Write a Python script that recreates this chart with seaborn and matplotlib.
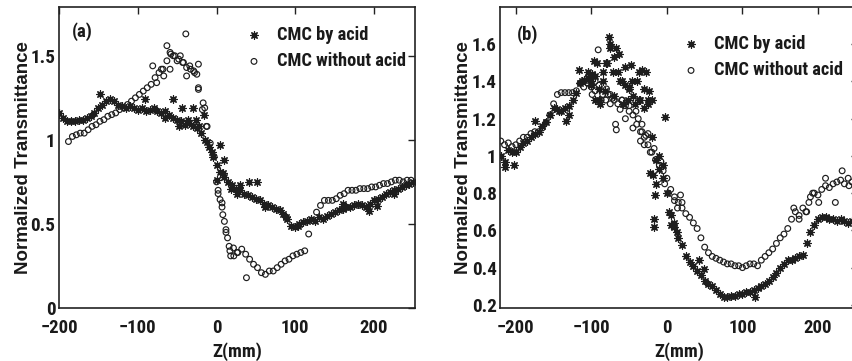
import numpy as np
import pandas as pd
import matplotlib
matplotlib.use("Agg")
import matplotlib.pyplot as plt
from matplotlib import font_manager
import seaborn as sns

# ---------------- data ----------------
# Panel (a)
a_acid_z0 = -200
a_acid_t = [1.16, 1.13, 1.11, 1.11, 1.11, 1.12, 1.12, 1.13, 1.14, 1.16,
            1.19, 1.21, 1.23, 1.24, 1.23, 1.21, 1.20, 1.19, 1.20, 1.19,
            1.18, 1.19, 1.17, 1.18, 1.19, 1.17, 1.16, 1.17, 1.15, 1.13,
            1.12, 1.11, 1.09, 1.10, 1.08, 1.07, 1.04, 1.00, 0.96, 0.90,
            0.85, 0.81, 0.78, 0.75, 0.73, 0.71, 0.70, 0.68, 0.67, 0.66,
            0.65, 0.64, 0.62, 0.61, 0.60, 0.59, 0.58, 0.56, 0.53, 0.49,
            0.48, 0.50, 0.51, 0.52, 0.53, 0.52, 0.54, 0.53, 0.55, 0.56,
            0.57, 0.58, 0.59, 0.60, 0.60, 0.61, 0.62, 0.61, 0.60, 0.62,
            0.64, 0.65, 0.66, 0.68, 0.69, 0.70, 0.71, 0.72, 0.73, 0.74,
            0.75]
a_acid_extra_z = [-148, -91, -55, -44, -30, -16, 4, 10, 0, 30, 41, 51, 193, 204,
                  -65, -48, -36, -26, -22, -12, -6, 8, 18, 26, 62, 88, 104, 160, 225]
a_acid_extra_t = [1.27, 1.24, 1.24, 1.19, 1.19, 1.145, 0.97, 0.88, 0.76, 0.73,
                  0.75, 0.75, 0.575, 0.605,
                  1.13, 1.08, 1.12, 1.12, 1.08, 0.99, 0.93, 0.80, 0.71, 0.68,
                  0.60, 0.54, 0.49, 0.62, 0.68]

a_noacid_z0 = -188
a_noacid_t = [0.99, 1.02, 1.03, 1.04, 1.04, 1.06, 1.08, 1.09, 1.11, 1.12,
              1.14, 1.15, 1.16, 1.18, 1.19, 1.21, 1.23, 1.25, 1.27, 1.29,
              1.31, 1.33, 1.37, 1.40, 1.42, 1.47, 1.51, 1.50, 1.48, 1.46,
              1.43, 1.42, 1.40, 1.30, 1.18, 1.08, 0.98, 0.90, 0.70, 0.60,
              0.45, 0.34, 0.31, 0.33, 0.35, 0.32, 0.29, 0.26, 0.24, 0.21,
              0.20, 0.22, 0.22, 0.24, 0.26, 0.28, 0.29, 0.31, 0.32, 0.33,
              0.34, 0.44, 0.52, 0.57, 0.61, 0.64, 0.64, 0.64, 0.65, 0.67,
              0.68, 0.70, 0.70, 0.70, 0.71, 0.71, 0.71, 0.72, 0.72, 0.73,
              0.74, 0.74, 0.75, 0.76, 0.76, 0.75, 0.76, 0.76]
a_noacid_extra_z = [-81, -70, -63, -59, -55, -50, -46, -42, -39, -38, -34, -29,
                    -23, -25, -23, -17, -15, -12, -67, -76, -59,
                    0, 2, 4.5, 7, 8, 10, 12, 14, 16, 18, 38, 21.5, 26]
a_noacid_extra_t = [1.44, 1.42, 1.56, 1.52, 1.50, 1.47, 1.50, 1.46, 1.63, 1.38,
                    1.44, 1.41, 1.45, 1.39, 1.31, 1.22, 1.19, 1.08, 1.38, 1.34,
                    1.42, 0.75, 0.68, 0.645, 0.625, 0.555, 0.515, 0.466, 0.417,
                    0.367, 0.31, 0.18, 0.357, 0.33]

# Panel (b)
b_acid_z0 = -220
b_acid_t = [1.00, 0.97, 1.03, 1.02, 1.02, 1.05, 1.07, 1.08, 1.10, 1.12,
            1.13, 1.16, 1.18, 1.22, 1.26, 1.25, 1.24, 1.26, 1.27, 1.30,
            1.34, 1.39, 1.41, 1.42, 1.40, 1.43, 1.36, 1.40, 1.50, 1.58,
            1.53, 1.45, 1.40, 1.38, 1.36, 1.32, 1.40, 1.30, 1.36, 1.28,
            1.10, 0.98, 0.93, 0.88, 0.80, 0.68, 0.62, 0.56, 0.52, 0.46,
            0.43, 0.41, 0.38, 0.36, 0.33, 0.31, 0.30, 0.28, 0.26, 0.24,
            0.24, 0.25, 0.25, 0.26, 0.26, 0.27, 0.27, 0.28, 0.29, 0.30,
            0.31, 0.33, 0.35, 0.37, 0.40, 0.42, 0.44, 0.44, 0.45, 0.46,
            0.47, 0.53, 0.59, 0.63, 0.66, 0.67, 0.67, 0.66, 0.66, 0.65,
            0.66, 0.65, 0.64, 0.65, 0.64]
b_acid_extra_z = [-117, -112, -99, -97, -92, -90, -79, -77, -75, -68, -64, -55,
                  -50, -48, -46, -37, -33, -30, -37, -24, -25, -3,
                  -143, -134, -130, -214, -203, -174,
                  -17, -17, -16, 3, 5, 9, 14, -19, -22, 117, 42, 49,
                  -105, -100, -95, -88, -85, -82, -72, -70, -62, -58, -52, -42,
                  -28, -20, -10, -5, -14]
b_acid_extra_t = [1.46, 1.40, 1.44, 1.51, 1.50, 1.30, 1.50, 1.64, 1.60, 1.58,
                  1.55, 1.48, 1.37, 1.49, 1.40, 1.45, 1.46, 1.26, 1.30, 1.35,
                  1.30, 1.21, 1.24, 1.19, 1.22, 0.94, 0.95, 1.19,
                  0.66, 0.62, 0.79, 0.70, 0.63, 0.64, 0.59, 0.90, 0.91, 0.24,
                  0.44, 0.39,
                  1.45, 1.38, 1.30, 1.28, 1.45, 1.35, 1.45, 1.32, 1.40, 1.28,
                  1.30, 1.28, 1.45, 1.30, 1.00, 0.95, 0.85]

b_noacid_z0 = -220
b_noacid_t = [1.08, 1.06, 1.07, 1.05, 1.06, 1.08, 1.10, 1.10, 1.12, 1.13,
              1.13, 1.15, 1.18, 1.22, 1.28, 1.33, 1.34, 1.34, 1.34, 1.34,
              1.35, 1.39, 1.40, 1.39, 1.37, 1.35, 1.38, 1.33, 1.36, 1.33,
              1.30, 1.28, 1.30, 1.27, 1.24, 1.22, 1.17, 1.13, 1.10, 1.06,
              1.02, 0.98, 0.95, 0.92, 0.88, 0.82, 0.78, 0.75, 0.72, 0.69,
              0.67, 0.64, 0.61, 0.56, 0.51, 0.48, 0.46, 0.45, 0.44, 0.43,
              0.42, 0.42, 0.41, 0.41, 0.40, 0.41, 0.42, 0.42, 0.41, 0.44,
              0.46, 0.48, 0.50, 0.53, 0.56, 0.58, 0.61, 0.66, 0.70, 0.68,
              0.72, 0.70, 0.78, 0.80, 0.79, 0.82, 0.84, 0.83, 0.85, 0.86,
              0.87, 0.85, 0.88, 0.86, 0.87]
b_noacid_extra_z = [-91, -68, -67, -99, -81, -72, -59, -41, -33, -30, -28, -33,
                    -17, 18, 20, 168, 175, 184, 188, 193, 210, 223, 232, 241, 201,
                    -110, -105, -95, -87, -78, -75, -62, -55, -50, -45, -38, -35,
                    -25, -22, -8, -3, 2, 10, 14]
b_noacid_extra_t = [1.57, 1.17, 1.14, 1.33, 1.30, 1.31, 1.30, 1.24, 1.17, 1.06,
                    1.11, 1.13, 1.04, 0.79, 0.75, 0.72, 0.66, 0.70, 0.75, 0.80,
                    0.88, 0.75, 0.92, 0.84, 0.75,
                    1.37, 1.42, 1.40, 1.30, 1.33, 1.28, 1.25, 1.20, 1.27, 1.15,
                    1.20, 1.08, 1.12, 1.02, 0.97, 0.85, 0.80, 0.76, 0.72]

z_step = 5
series_names = ["CMC by acid", "CMC without acid"]
panel_tags = ["(a)", "(b)"]
x_ticks = [-200, -100, 0, 100, 200]
a_y_ticks = [0, 0.5, 1, 1.5]
a_y_ticklabels = ["0", "0.5", "1", "1.5"]
b_y_ticks = [0.2, 0.4, 0.6, 0.8, 1.0, 1.2, 1.4, 1.6]
b_y_ticklabels = ["0.2", "0.4", "0.6", "0.8", "1", "1.2", "1.4", "1.6"]
x_label = "Z(mm)"
y_label = "Normalized Transmittance"


def build(z0, t, ez, et):
    z = z0 + z_step * np.arange(len(t))
    return pd.DataFrame({"Z": np.concatenate([z, ez]),
                         "T": np.concatenate([t, et])})


df_a_acid = build(a_acid_z0, a_acid_t, a_acid_extra_z, a_acid_extra_t)
df_a_no = build(a_noacid_z0, a_noacid_t, a_noacid_extra_z, a_noacid_extra_t)
df_b_acid = build(b_acid_z0, b_acid_t, b_acid_extra_z, b_acid_extra_t)
df_b_no = build(b_noacid_z0, b_noacid_t, b_noacid_extra_z, b_noacid_extra_t)

# ---------------- style ----------------
sns.set_theme(style="white")
plt.rcParams["font.family"] = ["Liberation Sans", "DejaVu Sans"]

# look for a condensed sans face; otherwise fall back to Liberation Sans
names = {f.name for f in font_manager.fontManager.ttflist}
cond_family = None
cond_stretch = "normal"
for cand in ["Liberation Sans Narrow", "Roboto Condensed", "Open Sans Condensed",
             "DejaVu Sans Condensed", "Noto Sans Display"]:
    if cand in names:
        cond_family = cand
        break
if cond_family is None:
    for f in font_manager.fontManager.ttflist:
        if f.stretch not in ("normal", 500) and f.weight in ("bold", 700) \
                and f.name in ("DejaVu Sans", "Noto Sans", "Open Sans", "Roboto"):
            cond_family = f.name
            cond_stretch = f.stretch
            break
have_cond = cond_family is not None
narrow = [cond_family, "Liberation Sans", "DejaVu Sans"] if have_cond \
    else ["Liberation Sans", "DejaVu Sans"]
k = 1.0 if have_cond else 0.86   # shrink wide font to keep widths

W, H = 852, 361
fig = plt.figure(figsize=(W / 100, H / 100), dpi=100)


def frac(l, t, r, b):
    return [l / W, (H - b) / H, (r - l) / W, (b - t) / H]


ax_a = fig.add_axes(frac(59, 7, 415, 308))
ax_b = fig.add_axes(frac(500, 7, 858, 308))

star = (8, 2, 0)
ink = "#1e1e1e"


def draw(ax, df_acid, df_no):
    sns.scatterplot(data=df_acid, x="Z", y="T", ax=ax, marker=star, s=28,
                    color=ink, linewidth=0.9, label=series_names[0], zorder=3)
    sns.scatterplot(data=df_no, x="Z", y="T", ax=ax, marker="o", s=17,
                    facecolor="none", edgecolor=ink, linewidth=0.85,
                    label=series_names[1], zorder=2)
    ax.collections[1].set_facecolor("none")


draw(ax_a, df_a_acid, df_a_no)
draw(ax_b, df_b_acid, df_b_no)

ax_a.set_xlim(-200, 252)
ax_a.set_ylim(0, 1.79)
ax_b.set_xlim(-221, 253)
ax_b.set_ylim(0.183, 1.8)

ax_a.set_yticks(a_y_ticks, a_y_ticklabels)
ax_b.set_yticks(b_y_ticks, b_y_ticklabels)


def tfont(size):
    d = {"family": narrow, "weight": "bold", "size": size}
    if have_cond and cond_stretch != "normal":
        d["stretch"] = cond_stretch
    return d


for ax, tag, leg_anchor, tag_pos, ylab_x in [
        (ax_a, panel_tags[0], (0.522, 0.937), (0.037, 0.917), -0.075),
        (ax_b, panel_tags[1], (0.508, 0.907), (0.048, 0.909), -0.078)]:
    ax.set_xticks(x_ticks, [f"\u2212{abs(v)}" if v < 0 else str(v) for v in x_ticks])
    ax.tick_params(direction="in", length=5, width=1.0, top=True, right=True,
                   color="#222222")
    ax.tick_params(axis="x", pad=8)
    ax.tick_params(axis="y", pad=2.5)
    for lab in ax.get_xticklabels():
        lab.set_fontproperties(font_manager.FontProperties(**tfont(13.5 * k)))
        lab.set_color("#1a1a1a")
    for lab in ax.get_yticklabels():
        lab.set_fontproperties(font_manager.FontProperties(**tfont(13.8 * k)))
        lab.set_color("#1a1a1a")
    for sp in ax.spines.values():
        sp.set_linewidth(1.2)
        sp.set_color("#222222")
    ax.set_xlabel(x_label, fontproperties=font_manager.FontProperties(**tfont(13.5 * k)),
                  color="#1a1a1a")
    ax.xaxis.set_label_coords(0.5, -0.115)
    ax.set_ylabel(y_label, fontsize=13.5, fontweight="bold", color="#1a1a1a")
    ax.yaxis.set_label_coords(ylab_x, 0.5)
    ax.text(tag_pos[0], tag_pos[1], tag, transform=ax.transAxes, ha="left",
            va="center", fontproperties=font_manager.FontProperties(**tfont(13.5)),
            color="#1a1a1a")
    leg = ax.legend(loc="upper left", bbox_to_anchor=leg_anchor, frameon=False,
                    handlelength=1.0, handletextpad=0.75, borderpad=0,
                    borderaxespad=0, labelspacing=0.45, markerscale=1.0,
                    prop=font_manager.FontProperties(**tfont(13.2 * k)))
    for txt in leg.get_texts():
        txt.set_color("#1a1a1a")
    ax.grid(False)

fig.savefig("out.png", dpi=100)
